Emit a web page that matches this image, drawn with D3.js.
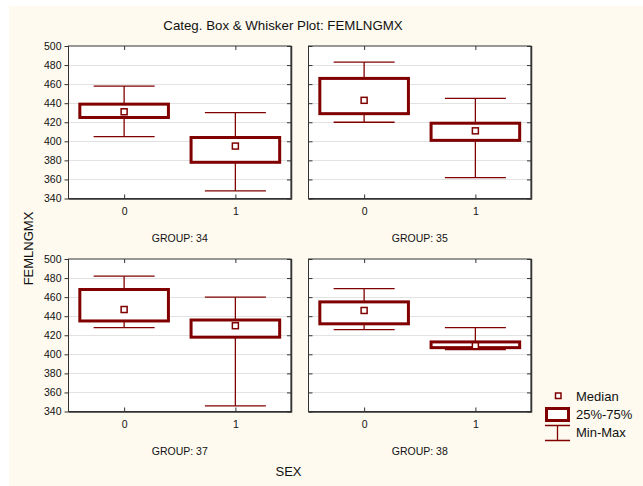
<!DOCTYPE html>
<html><head><meta charset="utf-8">
<script src="https://cdn.jsdelivr.net/npm/d3@7"></script>
<style>body{margin:0;background:#fff}svg{display:block}text{font-family:"Liberation Sans",Arial,sans-serif;fill:#111}</style>
</head><body>
<script>
const groups = ["GROUP: 34","GROUP: 35","GROUP: 37","GROUP: 38"];
const categories = ["0","1"];
const minVals    = [[405,348],[420,362],[428,346],[426,405]];
const q1Vals     = [[425,378],[429,401],[435,418],[432,407]];
const medianVals = [[431,395],[443,411],[447,430],[446,409]];
const q3Vals     = [[439,404],[466,419],[468,436],[455,413]];
const maxVals    = [[458,430],[483,445],[482,460],[469,428]];
const yTicks = [340,360,380,400,420,440,460,480,500];
const legendLabels = ["Median","25%-75%","Min-Max"];

const W=643,H=486, red="#800000";
const svg=d3.select("body").append("svg").attr("width",W).attr("height",H);
svg.append("rect").attr("x",9).attr("y",6).attr("width",W-9).attr("height",H-6).attr("fill","#fefaef");

const pw=222.5, ph=152.5;
const lefts=[68.5,308.5,68.5,308.5], tops=[46,46,259,259];
const y=d3.scaleLinear().domain([340,500]).range([ph,0]);
const x=d3.scalePoint().domain(categories).range([0,pw]).padding(0.5);
const boxHalf=44.3, capHalf=30.5;

svg.append("text").attr("x",283).attr("y",29.5).attr("text-anchor","middle").style("font-size","13.3px").text("Categ. Box & Whisker Plot: FEMLNGMX");
svg.append("text").attr("transform","translate(33,248.5) rotate(-90)").attr("text-anchor","middle").style("font-size","13px").text("FEMLNGMX");
svg.append("text").attr("x",288.5).attr("y",476).attr("text-anchor","middle").style("font-size","13px").text("SEX");

groups.forEach((gname,gi)=>{
  const g=svg.append("g").attr("transform",`translate(${lefts[gi]},${tops[gi]})`);
  g.append("rect").attr("width",pw).attr("height",ph).attr("fill","#fff");
  g.selectAll(".grid").data(yTicks.slice(1,-1)).join("line")
    .attr("x1",0).attr("x2",pw).attr("y1",d=>Math.round(y(d))+0.5).attr("y2",d=>Math.round(y(d))+0.5)
    .attr("stroke","#c4c4c4").attr("stroke-dasharray","1,1");
  const ya=d3.axisLeft(y).tickValues(yTicks).tickSize(gi%2===0?4:-4).tickPadding(3);
  const yaG=g.append("g").call(ya);
  yaG.select(".domain").remove();
  yaG.selectAll("line").attr("stroke","#333");
  if(gi%2===0){yaG.selectAll("text").style("font-size","10.5px").attr("fill","#111");}
  else yaG.selectAll("text").remove();
  const ra=g.append("g").attr("transform",`translate(${pw},0)`).call(d3.axisRight(y).tickValues(yTicks).tickSize(-4).tickFormat(""));
  ra.select(".domain").remove(); ra.selectAll("line").attr("stroke","#333");
  const ba=g.append("g").attr("transform",`translate(0,${ph})`).call(d3.axisBottom(x).tickSize(-4).tickPadding(9));
  ba.select(".domain").remove(); ba.selectAll("line").attr("stroke","#333");
  ba.selectAll("text").style("font-size","10.5px").attr("fill","#111");
  const ta=g.append("g").call(d3.axisTop(x).tickSize(-4).tickFormat(""));
  ta.select(".domain").remove(); ta.selectAll("line").attr("stroke","#333");
  g.append("rect").attr("width",pw).attr("height",ph).attr("fill","none").attr("stroke","#333").attr("stroke-width",1);
  g.append("path").attr("d",`M${pw+0.5},0V${ph+0.5}H0`).attr("fill","none").attr("stroke","#333").attr("stroke-width",1.5);
  categories.forEach((c,ci)=>{
    const cx=x(c);
    g.append("line").attr("x1",cx).attr("x2",cx).attr("y1",y(minVals[gi][ci])).attr("y2",y(maxVals[gi][ci])).attr("stroke",red).attr("stroke-width",1.3);
    [minVals[gi][ci],maxVals[gi][ci]].forEach(v=>{
      g.append("line").attr("x1",cx-capHalf).attr("x2",cx+capHalf).attr("y1",y(v)).attr("y2",y(v)).attr("stroke",red).attr("stroke-width",1.3);
    });
    g.append("rect").attr("x",cx-boxHalf).attr("width",2*boxHalf)
      .attr("y",y(q3Vals[gi][ci])).attr("height",y(q1Vals[gi][ci])-y(q3Vals[gi][ci]))
      .attr("fill","#fff").attr("stroke",red).attr("stroke-width",3);
    const m=y(medianVals[gi][ci]);
    g.append("rect").attr("x",cx-3).attr("y",m-3).attr("width",6).attr("height",6).attr("fill","#fff").attr("stroke",red).attr("stroke-width",1.5);
  });
  svg.append("text").attr("x",lefts[gi]+pw/2).attr("y",tops[gi]+ph+43.5).attr("text-anchor","middle").style("font-size","10.5px").text(gname);
});

const lg=svg.append("g");
lg.append("rect").attr("x",555.5).attr("y",393).attr("width",5.5).attr("height",5.5).attr("fill","#fff").attr("stroke",red).attr("stroke-width",1.5);
lg.append("rect").attr("x",546.5).attr("y",408.5).attr("width",22).attr("height",12).attr("fill","#fff").attr("stroke",red).attr("stroke-width",3);
lg.append("path").attr("d","M545,425.5H570M557.5,425.5V440M545,440.5H570").attr("stroke",red).attr("stroke-width",1.3).attr("fill","none");
[396,414,432].forEach((yy,i)=>{
  lg.append("text").attr("x",576).attr("y",yy).attr("dy","0.35em").style("font-size","13px").text(legendLabels[i]);
});
</script>
</body></html>
